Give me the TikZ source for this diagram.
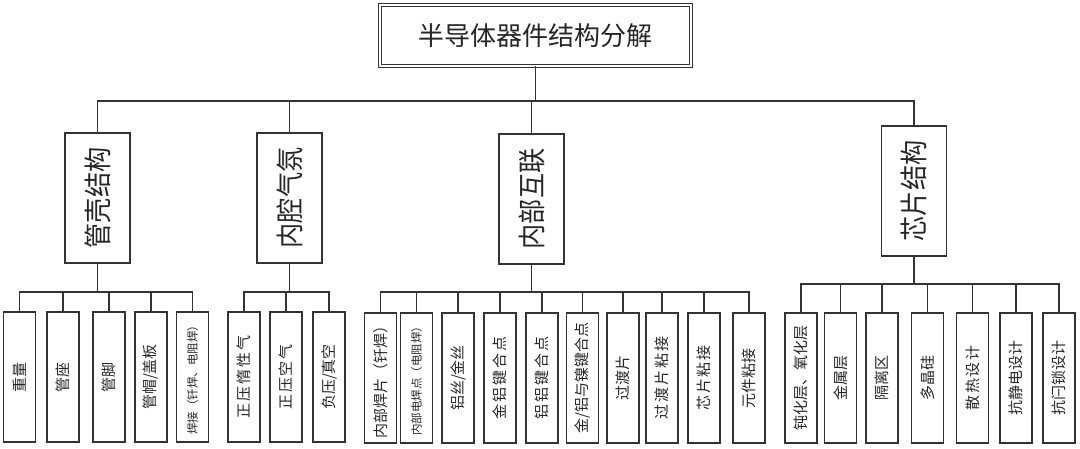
\documentclass[tikz,border=0pt]{standalone}
\usepackage{fontspec}
\setmainfont{Noto Sans CJK SC}
\newfontfamily\cjkwide[LetterSpace=12]{Noto Sans CJK SC}
\newcommand{\vtext}[1]{\rotatebox{90}{#1}}
\newcommand{\vpart}[1]{\rotatebox{90}{\scalebox{0.9}[1]{#1}}}
\begin{document}
\begin{tikzpicture}[x=1pt, y=-1pt,
    title/.style={draw=black!80, double, double distance=2pt, line width=0.7pt,
                  minimum width=311pt, minimum height=61pt, inner sep=0pt,
                  text=black!85, font=\fontsize{26}{26}\selectfont},
    part/.style={draw=black!80, line width=1.2pt, minimum width=65pt,
                 minimum height=130pt, inner sep=0pt, text=black!85,
                 font=\fontsize{28}{28}\selectfont},
    leaf/.style={draw=black!80, line width=1.2pt, minimum width=32pt,
                 minimum height=130pt, inner sep=0pt, text=black!85,
                 font=\fontsize{15}{15}\selectfont},
    wideleaf/.style={leaf, font=\cjkwide\fontsize{15}{15}\selectfont},
    smallleaf/.style={leaf, font=\fontsize{11.5}{11.5}\selectfont},
    conn/.style={black!80, line width=1.3pt},
  ]
    \useasboundingbox (0,0) rectangle (1080,449);

    % bus lines
    \coordinate (b0) at (0,101);
    \coordinate (b1) at (0,292);
    \coordinate (b4) at (0,284);

    % top and parts
    \node[title] (top) at (535.5, 35.5) {半导体器件结构分解};
    \node[part] (gk) at (97.5, 198) {\vpart{管壳结构}};
    \node[part] (qf) at (289.5, 198) {\vpart{内腔气氛}};
    \node[part] (hl) at (531.5, 199) {\vpart{内部互联}};
    \node[part] (xp) at (914, 191) {\vpart{芯片结构}};

    \draw[conn] (top.south) -- (top.south |- b0) -| (gk.north)
                (top.south |- b0) -| (qf.north)
                (top.south |- b0) -| (hl.north)
                (top.south |- b0) -| (xp.north);

    % package
    \node[leaf]      (gk1) at (19.5, 377)  {\vtext{重量}};
    \node[leaf]      (gk2) at (63, 377)    {\vtext{管座}};
    \node[leaf]      (gk3) at (109, 377)   {\vtext{管脚}};
    \node[leaf]      (gk4) at (151, 377)   {\vtext{管帽/盖板}};
    \node[smallleaf] (gk5) at (192.5, 377) {\vtext{焊接（钎焊、电阻焊）}};

    \draw[conn] (gk.south) -- (gk.south |- b1) -| (gk1.north)
                (gk.south |- b1) -| (gk2.north)
                (gk.south |- b1) -| (gk3.north)
                (gk.south |- b1) -| (gk4.north)
                (gk.south |- b1) -| (gk5.north);

    % atmosphere
    \node[wideleaf] (qf1) at (244, 377) {\vtext{正压惰性气}};
    \node[wideleaf] (qf2) at (286, 377) {\vtext{正压空气}};
    \node[leaf]     (qf3) at (329, 377) {\vtext{负压/真空}};

    \draw[conn] (qf.south) -- (qf.south |- b1) -| (qf1.north)
                (qf.south |- b1) -| (qf2.north)
                (qf.south |- b1) -| (qf3.north);

    % interconnect
    \node[leaf]      (hl1)  at (380.5, 378) {\vtext{内部焊片（钎焊）}};
    \node[smallleaf] (hl2)  at (416.5, 378) {\vtext{内部电焊点（电阻焊）}};
    \node[leaf]      (hl3)  at (458, 378)   {\vtext{铝丝/金丝}};
    \node[wideleaf]  (hl4)  at (500, 378)   {\vtext{金铝键合点}};
    \node[wideleaf]  (hl5)  at (542, 378)   {\vtext{铝铝键合点}};
    \node[leaf]      (hl6)  at (582.5, 378) {\vtext{金/铝与镍键合点}};
    \node[leaf]      (hl7)  at (623, 378)   {\vtext{过渡片}};
    \node[wideleaf]  (hl8)  at (662, 378)   {\vtext{过渡片粘接}};
    \node[wideleaf]  (hl9)  at (704, 378)   {\vtext{芯片粘接}};
    \node[leaf]      (hl10) at (749, 378)   {\vtext{元件粘接}};

    \draw[conn] (hl.south) -- (hl.south |- b1) -| (hl1.north)
                (hl.south |- b1) -| (hl2.north)
                (hl.south |- b1) -| (hl3.north)
                (hl.south |- b1) -| (hl4.north)
                (hl.south |- b1) -| (hl5.north)
                (hl.south |- b1) -| (hl6.north)
                (hl.south |- b1) -| (hl7.north)
                (hl.south |- b1) -| (hl8.north)
                (hl.south |- b1) -| (hl9.north)
                (hl.south |- b1) -| (hl10.north);

    % chip
    \node[leaf]     (xp1) at (801, 378)    {\vtext{钝化层、氧化层}};
    \node[leaf]     (xp2) at (840.5, 378)  {\vtext{金属层}};
    \node[leaf]     (xp3) at (882, 378)    {\vtext{隔离区}};
    \node[leaf]     (xp4) at (927.5, 378)  {\vtext{多晶硅}};
    \node[wideleaf] (xp5) at (972.5, 378)  {\vtext{散热设计}};
    \node[leaf]     (xp6) at (1016, 378)   {\vtext{抗静电设计}};
    \node[leaf]     (xp7) at (1059, 378)   {\vtext{抗闩锁设计}};

    \draw[conn] (xp.south) -- (xp.south |- b4) -| (xp1.north)
                (xp.south |- b4) -| (xp2.north)
                (xp.south |- b4) -| (xp3.north)
                (xp.south |- b4) -| (xp4.north)
                (xp.south |- b4) -| (xp5.north)
                (xp.south |- b4) -| (xp6.north)
                (xp.south |- b4) -| (xp7.north);
  \end{tikzpicture}
\end{document}
